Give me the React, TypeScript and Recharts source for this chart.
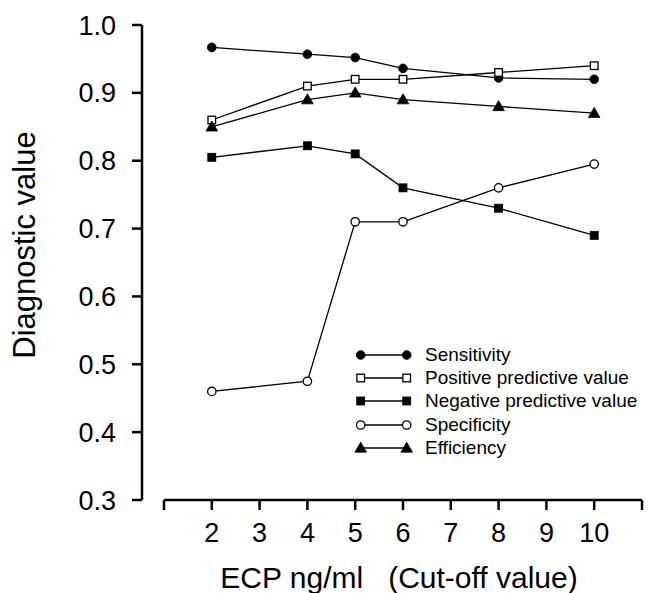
import React from 'react';
import { LineChart, Line, XAxis, YAxis, ReferenceLine } from 'recharts';

const cutoffs = [2, 4, 5, 6, 8, 10];
const sensitivity = [0.967, 0.957, 0.952, 0.936, 0.922, 0.92];
const positivePV = [0.86, 0.91, 0.92, 0.92, 0.93, 0.94];
const negativePV = [0.805, 0.822, 0.81, 0.76, 0.73, 0.69];
const specificity = [0.46, 0.475, 0.71, 0.71, 0.76, 0.795];
const efficiency = [0.85, 0.89, 0.9, 0.89, 0.88, 0.87];

const xTicks = [1, 2, 3, 4, 5, 6, 7, 8, 9, 10, 11];
const yTicks = [0.3, 0.4, 0.5, 0.6, 0.7, 0.8, 0.9, 1.0];

const seriesNames = [
  'Sensitivity',
  'Positive predictive value',
  'Negative predictive value',
  'Specificity',
  'Efficiency',
];
const seriesKeys = ['sens', 'ppv', 'npv', 'spec', 'eff'];
const seriesShapes = ['circleFilled', 'squareOpen', 'squareFilled', 'circleOpen', 'triangle'];

const data = cutoffs.map((x, i) => ({
  x,
  sens: sensitivity[i],
  ppv: positivePV[i],
  npv: negativePV[i],
  spec: specificity[i],
  eff: efficiency[i],
}));

const FONT = '"Liberation Sans", Arial, Helvetica, sans-serif';

function Marker({ shape, cx, cy }: { shape: string; cx: number; cy: number }) {
  if (cx == null || cy == null) return null;
  switch (shape) {
    case 'circleFilled':
      return <circle cx={cx} cy={cy} r={4.3} fill="#000" stroke="#000" strokeWidth={1} />;
    case 'circleOpen':
      return <circle cx={cx} cy={cy} r={4.2} fill="#fff" stroke="#000" strokeWidth={1.3} />;
    case 'squareFilled':
      return <rect x={cx - 4} y={cy - 4} width={8} height={8} fill="#000" stroke="#000" strokeWidth={0.8} />;
    case 'squareOpen':
      return <rect x={cx - 3.8} y={cy - 3.8} width={7.6} height={7.6} fill="#fff" stroke="#000" strokeWidth={1.3} />;
    case 'triangle':
      return (
        <path
          d={`M ${cx} ${cy - 5.8} L ${cx + 5.8} ${cy + 4.2} L ${cx - 5.8} ${cy + 4.2} Z`}
          fill="#000"
          stroke="#000"
          strokeWidth={0.8}
        />
      );
    default:
      return null;
  }
}

function LegendBox() {
  return (
    <div
      style={{
        position: 'absolute',
        left: 350,
        top: 343,
        fontFamily: FONT,
        fontSize: 19,
        color: '#000',
      }}
    >
      {seriesNames.map((name, i) => (
        <div key={name} style={{ display: 'flex', alignItems: 'center', height: 23.3 }}>
          <svg width={66} height={20} style={{ display: 'block' }}>
            <line x1={10.7} y1={10} x2={56.7} y2={10} stroke="#000" strokeWidth={1.3} />
            <Marker shape={seriesShapes[i]} cx={10.7} cy={10} />
            <Marker shape={seriesShapes[i]} cx={56.7} cy={10} />
          </svg>
          <span style={{ marginLeft: 9, whiteSpace: 'nowrap', lineHeight: '20px' }}>{name}</span>
        </div>
      ))}
    </div>
  );
}

const renderXLabel = (props: any) => {
  const vb = props.viewBox || {};
  const cx = (vb.x ?? 0) + (vb.width ?? 0) / 2 + 7;
  return (
    <text
      x={cx}
      y={(vb.y ?? 0) + 88}
      textAnchor="middle"
      fontFamily={FONT}
      fontSize={30}
      fill="#000"
      style={{ whiteSpace: 'pre' }}
    >
      {'ECP ng/ml\u00A0\u00A0\u00A0(Cut-off value)'}
    </text>
  );
};

const renderYLabel = () => {
  const cx = 35;
  const cy = 245;
  return (
    <text
      x={cx}
      y={cy}
      transform={`rotate(-90 ${cx} ${cy})`}
      textAnchor="middle"
      fontFamily={FONT}
      fontSize={31}
      fill="#000"
    >
      Diagnostic value
    </text>
  );
};

export default function App() {
  return (
    <div style={{ position: 'absolute', left: 0, top: 0, width: 648, height: 593, background: '#fff' }}>
      <LineChart
        width={648}
        height={593}
        data={data}
        margin={{ top: 25, right: 6, bottom: 0, left: 0 }}
      >
        <XAxis
          dataKey="x"
          type="number"
          domain={[0.54, 11]}
          ticks={xTicks}
          allowDecimals={false}
          interval={0}
          axisLine={false}
          tickLine={{ stroke: '#000', strokeWidth: 2.5 }}
          tickSize={10}
          tickMargin={13}
          height={93}
          tickFormatter={(v: number) => (v === 1 || v === 11 ? '' : String(v))}
          tick={{ fill: '#000', fontSize: 27, fontFamily: FONT }}
          label={renderXLabel}
        />
        <YAxis
          type="number"
          domain={[0.3, 1.0]}
          ticks={yTicks}
          interval={0}
          width={142}
          axisLine={{ stroke: '#000', strokeWidth: 2.5 }}
          tickLine={{ stroke: '#000', strokeWidth: 2.5 }}
          tickSize={10}
          tickMargin={16}
          tickFormatter={(v: number) => v.toFixed(1)}
          tick={{ fill: '#000', fontSize: 27, fontFamily: FONT }}
          label={renderYLabel}
        />
        <ReferenceLine
          segment={[
            { x: 1, y: 0.3 },
            { x: 11, y: 0.3 },
          ]}
          stroke="#000"
          strokeWidth={2.5}
          ifOverflow="visible"
        />
        {seriesKeys.map((key, i) => (
          <Line
            key={key}
            type="linear"
            dataKey={key}
            name={seriesNames[i]}
            stroke="#000"
            strokeWidth={1.3}
            isAnimationActive={false}
            dot={(p: any) => <Marker key={`${key}-${p.index}`} shape={seriesShapes[i]} cx={p.cx} cy={p.cy} />}
            activeDot={false}
          />
        ))}
      </LineChart>
      <LegendBox />
    </div>
  );
}
